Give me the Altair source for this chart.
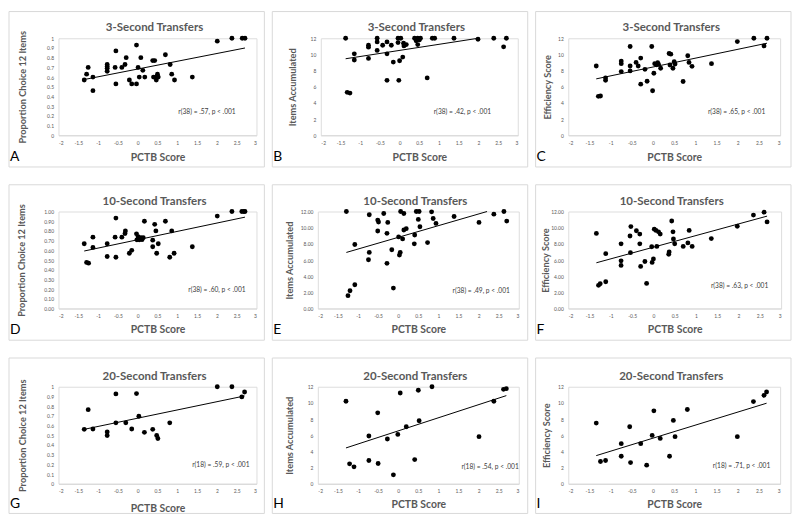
import altair as alt
import pandas as pd

# ---------------- data ----------------
x_ticks = [-2, -1.5, -1, -0.5, 0, 0.5, 1, 1.5, 2, 2.5, 3]
prop_ticks = [0, 0.1, 0.2, 0.3, 0.4, 0.5, 0.6, 0.7, 0.8, 0.9, 1.0]
items_ticks = [0, 2, 4, 6, 8, 10, 12]

titles = ["3-Second Transfers", "10-Second Transfers", "20-Second Transfers"]
y_titles = ["Proportion Choice 12 Items", "Items Accumulated", "Efficiency Score"]
letters = ["A", "B", "C", "D", "E", "F", "G", "H", "I"]
annotations = [
    "r(38) = .57, p < .001", "r(38) = .42, p < .001", "r(38) = .65, p < .001",
    "r(38) = .60, p < .001", "r(38) = .49, p < .001", "r(38) = .63, p < .001",
    "r(18) = .59, p < .001", "r(18) = .54, p < .001", "r(18) = .71, p < .001",
]

a_x = [-1.35, -1.29, -1.25, -1.13, -1.13, -0.77, -0.77, -0.77, -0.77, -0.55, -0.57, -0.55, -0.40, -0.32, -0.29,
       -0.21, -0.15, -0.03, -0.03, 0.01, 0.04, 0.08, 0.13, 0.18, 0.38, 0.43, 0.40, 0.45, 0.47, 0.50, 0.52,
       0.70, 0.82, 0.86, 0.93, 1.38, 2.01, 2.38, 2.64, 2.71]
a_y = [0.57, 0.63, 0.70, 0.60, 0.46, 0.73, 0.71, 0.69, 0.66, 0.87, 0.70, 0.53, 0.70, 0.73, 0.80,
       0.57, 0.53, 0.93, 0.53, 0.70, 0.60, 0.80, 0.67, 0.60, 0.77, 0.77, 0.60, 0.60, 0.57, 0.63, 0.60,
       0.83, 0.73, 0.63, 0.57, 0.60, 0.97, 1.0, 1.0, 1.0]

b_x = [-1.37, -1.33, -1.26, -1.15, -1.15, -0.79, -0.79, -0.79, -0.57, -0.57, -0.57, -0.43, -0.32, -0.32, -0.32,
       -0.21, -0.16, -0.04, -0.04, -0.02, 0.00, 0.03, 0.08, 0.10, 0.11, 0.17, 0.38, 0.42, 0.46, 0.46, 0.50, 0.53,
       0.70, 0.83, 0.89, 1.38, 1.99, 2.39, 2.64, 2.71]
b_y = [12.0, 5.31, 5.22, 10.08, 9.31, 11.14, 10.9, 9.51, 12.0, 11.55, 10.5, 11.14, 11.55, 10.08, 6.8,
       11.14, 9.06, 12.0, 11.47, 6.8, 9.22, 12.0, 9.67, 11.39, 11.06, 11.22, 12.0, 11.7, 11.22, 12.0, 11.8, 12.0,
       7.1, 12.0, 12.0, 12.0, 11.88, 12.0, 10.94, 12.0]

c_x = [-1.34, -1.29, -1.24, -1.12, -1.12, -0.75, -0.75, -0.75, -0.54, -0.54, -0.54, -0.40, -0.35, -0.29, -0.29,
       -0.19, -0.14, -0.03, -0.01, 0.02, 0.04, 0.08, 0.11, 0.13, 0.18, 0.38, 0.42, 0.40, 0.47, 0.50, 0.52,
       0.71, 0.82, 0.85, 0.92, 1.38, 1.99, 2.38, 2.62, 2.69]
c_y = [8.57, 4.82, 4.86, 7.1, 6.8, 9.18, 8.86, 7.88, 10.98, 8.57, 7.96, 9.02, 8.57, 9.55, 6.33,
       8.16, 6.69, 10.98, 5.51, 7.67, 8.86, 8.73, 8.98, 8.78, 8.29, 10.12, 10.04, 8.69, 8.29, 9.1, 8.82,
       6.65, 9.84, 9.02, 8.53, 8.86, 11.59, 12.0, 11.06, 12.0]

d_x = [-1.35, -1.29, -1.24, -1.13, -1.13, -0.77, -0.77, -0.55, -0.57, -0.55, -0.40, -0.32, -0.31, -0.21, -0.15,
       -0.03, -0.02, 0.01, 0.04, 0.06, 0.08, 0.11, 0.14, 0.17, 0.38, 0.38, 0.43, 0.46, 0.48, 0.52,
       0.70, 0.81, 0.86, 0.92, 1.38, 2.01, 2.38, 2.63, 2.68, 2.71]
d_y = [0.668, 0.475, 0.468, 0.736, 0.63, 0.668, 0.536, 0.932, 0.736, 0.529, 0.736, 0.773, 0.80, 0.57, 0.60,
       0.77, 0.708, 0.74, 0.708, 0.72, 0.73, 0.71, 0.73, 0.90, 0.705, 0.637, 0.868, 0.80, 0.57, 0.668,
       0.90, 0.529, 0.80, 0.57, 0.637, 0.953, 1.0, 1.0, 1.0, 1.0]

e_x = [-1.29, -1.25, -1.20, -1.08, -1.08, -0.72, -0.72, -0.74, -0.51, -0.49, -0.51, -0.36, -0.26, -0.28, -0.16,
       -0.28, -0.12, 0.01, 0.05, 0.03, 0.06, 0.14, 0.11, 0.14, 0.20, 0.40, 0.41, 0.45, 0.52, 0.50, 0.54,
       0.73, 0.83, 0.87, 0.94, 1.39, 2.01, 2.38, 2.63, 2.70]
e_y = [12.0, 1.59, 2.2, 2.94, 7.92, 11.6, 6.94, 6.04, 10.94, 10.7, 9.59, 11.76, 10.65, 9.3, 7.27,
       5.59, 2.53, 8.86, 6.94, 6.61, 12.0, 11.76, 8.61, 9.71, 9.88, 8.0, 9.1, 12.0, 12.0, 11.02, 10.12,
       8.16, 11.96, 11.14, 10.53, 11.39, 10.65, 11.67, 12.0, 10.82]

f_x = [-1.34, -1.29, -1.25, -1.12, -1.12, -0.76, -0.76, -0.76, -0.54, -0.55, -0.53, -0.40, -0.32, -0.32, -0.30,
       -0.20, -0.16, -0.04, -0.03, 0.00, 0.02, 0.06, 0.08, 0.12, 0.16, 0.36, 0.37, 0.43, 0.46, 0.47, 0.50,
       0.70, 0.81, 0.84, 0.91, 1.36, 1.97, 2.35, 2.60, 2.67]
f_y = [9.29, 2.87, 3.07, 3.31, 6.79, 8.0, 5.9, 5.33, 6.91, 8.97, 10.14, 9.62, 9.21, 8.0, 5.21,
       5.82, 3.11, 7.64, 5.7, 6.14, 9.82, 9.66, 7.68, 9.49, 9.21, 6.71, 6.99, 10.83, 9.49, 8.61, 8.0,
       7.68, 8.12, 9.66, 7.68, 8.65, 10.18, 11.56, 11.92, 10.71]

g_x = [-1.35, -1.25, -1.13, -0.77, -0.77, -0.55, -0.55, -0.30, -0.15, -0.03, 0.03, 0.17, 0.38, 0.48, 0.51,
       0.81, 2.01, 2.38, 2.63, 2.70]
g_y = [0.561, 0.764, 0.564, 0.534, 0.497, 0.926, 0.628, 0.628, 0.564, 0.929, 0.696, 0.53, 0.561, 0.497, 0.466,
       0.628, 1.0, 1.0, 0.895, 0.946]

h_x = [-1.30, -1.21, -1.10, -0.73, -0.73, -0.51, -0.50, -0.27, -0.12, -0.01, 0.05, 0.20, 0.41, 0.50, 0.52,
       0.84, 2.01, 2.38, 2.62, 2.69]
h_y = [10.2, 2.46, 2.09, 5.9, 2.87, 8.77, 2.5, 5.53, 1.1, 6.1, 11.23, 7.05, 2.99, 11.56, 7.79,
       12.0, 5.82, 10.2, 11.68, 11.76]

i_x = [-1.34, -1.24, -1.12, -0.75, -0.75, -0.55, -0.53, -0.29, -0.15, -0.02, 0.02, 0.17, 0.39, 0.48, 0.52,
       0.81, 1.99, 2.37, 2.62, 2.68]
i_y = [7.5, 2.75, 2.87, 4.96, 3.4, 7.05, 2.62, 4.96, 2.3, 5.98, 9.02, 5.61, 3.4, 7.83, 5.82,
       9.18, 5.82, 10.16, 10.94, 11.35]

# trend-line end points as drawn in the reference (B and E clipped at the axis top)
trend_x = {
    "A": [-1.35, 2.71], "B": [-1.37, 1.99], "C": [-1.34, 2.69],
    "D": [-1.35, 2.71], "E": [-1.29, 2.21], "F": [-1.34, 2.67],
    "G": [-1.35, 2.70], "H": [-1.30, 2.69], "I": [-1.34, 2.68],
}
trend_y = {
    "A": [0.575, 0.90], "B": [9.47, 12.0], "C": [6.98, 11.39],
    "D": [0.593, 0.942], "E": [6.94, 12.0], "F": [5.66, 11.43],
    "G": [0.561, 0.905], "H": [4.43, 10.9], "I": [3.48, 9.96],
}

# ---------------- layout / style ----------------
GRAY = "#595959"
FONT = "Lato"
PANEL_W = 258
PANEL_H = 157
PLOT_H = 98
one = pd.DataFrame({"k": [0]})


def panel(letter, xs, ys, title, ytitle, yvals, yfmt, ymax, ann,
          loff, w, toff, ytx, ann_right, ann_y, xty):
    pts = pd.DataFrame({"x": xs, "y": ys})
    tr = pd.DataFrame({"x": trend_x[letter], "y": trend_y[letter]})
    xenc = alt.X("x:Q",
                 scale=alt.Scale(domain=[-2, 3], nice=False, zero=False),
                 axis=alt.Axis(values=x_ticks, labelExpr="'' + datum.value",
                               title="PCTB Score", titleY=xty, titleBaseline="middle",
                               titleFontSize=10.5, titleFontWeight="bold", titleColor=GRAY,
                               titleFont=FONT,
                               labelFontSize=5, labelColor=GRAY, labelFont=FONT, labelPadding=5,
                               domainColor="#d9d9d9", ticks=False, tickSize=0, grid=False))
    yenc = alt.Y("y:Q",
                 scale=alt.Scale(domain=[0, ymax], nice=False, zero=True),
                 axis=alt.Axis(values=yvals, format=yfmt,
                               title=ytitle, titleX=ytx, titleY=PLOT_H / 2,
                               titleAngle=270, titleBaseline="middle", titleAlign="center",
                               titleFontSize=9.3, titleFontWeight="bold", titleColor=GRAY,
                               titleFont=FONT,
                               labelFontSize=5, labelColor=GRAY, labelFont=FONT, labelPadding=5,
                               domain=False, ticks=False, tickSize=0, grid=False))

    border = alt.Chart(one).mark_rect(fill="transparent", stroke="#d9d9d9", strokeWidth=1).encode(
        x=alt.value(-loff), x2=alt.value(-loff + PANEL_W),
        y=alt.value(-toff), y2=alt.value(-toff + PANEL_H))
    dots = alt.Chart(pts).mark_circle(size=24, color="black", opacity=1).encode(x=xenc, y=yenc)
    line = alt.Chart(tr).mark_line(color="black", strokeWidth=1).encode(x=xenc, y=yenc)
    ttl = alt.Chart(one).mark_text(fontWeight="bold", fontSize=11.6, color=GRAY, font=FONT,
                                   baseline="middle", align="center").encode(
        x=alt.value(w / 2 - 3), y=alt.value(-10), text=alt.value(title))
    note = alt.Chart(one).mark_text(fontSize=6.7, color="#404040", font=FONT,
                                    align="right", baseline="middle").encode(
        x=alt.value(ann_right), y=alt.value(ann_y), text=alt.value(ann))
    lab = alt.Chart(one).mark_text(fontSize=14, color="black", font=FONT,
                                   align="left", baseline="middle").encode(
        x=alt.value(-loff + 1), y=alt.value(-toff + PANEL_H - 10), text=alt.value(letter))
    return alt.layer(border, line, dots, ttl, note, lab).properties(width=w, height=PLOT_H)


pA = panel("A", a_x, a_y, titles[0], y_titles[0], prop_ticks, "~g", 1, annotations[0],
           50, 200, 27, -36, 179, 74, 22)
pB = panel("B", b_x, b_y, titles[0], y_titles[1], items_ticks, "d", 12, annotations[1],
           49, 199, 27, -29, 172, 74, 22)
pC = panel("C", c_x, c_y, titles[0], y_titles[2], items_ticks, "d", 12, annotations[2],
           33, 214, 27, -21, 199, 74, 22)
pD = panel("D", d_x, d_y, titles[1], y_titles[0], prop_ticks, ".2f", 1, annotations[3],
           50, 200, 27, -37, 189, 79, 21)
pE = panel("E", e_x, e_y, titles[1], y_titles[1], items_ticks, ".2f", 12, annotations[4],
           46, 203, 27, -29, 194, 80, 21)
pF = panel("F", f_x, f_y, titles[1], y_titles[2], items_ticks, ".2f", 12, annotations[5],
           33, 215, 27, -23, 202, 75, 21)
pG = panel("G", g_x, g_y, titles[2], y_titles[0], prop_ticks, "~g", 1, annotations[6],
           50, 200, 29, -36, 193, 79, 25)
pH = panel("H", h_x, h_y, titles[2], y_titles[1], items_ticks, "d", 12, annotations[7],
           46, 203, 29, -29, 203, 81, 21)
pI = panel("I", i_x, i_y, titles[2], y_titles[2], items_ticks, "d", 12, annotations[8],
           33, 214, 29, -22, 204, 80, 21)

row1 = alt.hconcat(pA, pB, pC, spacing=6)
row2 = alt.hconcat(pD, pE, pF, spacing=6)
row3 = alt.hconcat(pG, pH, pI, spacing=6)

chart = alt.vconcat(row1, row2, row3, spacing=16).properties(
    padding=0, background="white"
).configure_view(strokeWidth=0).configure(font=FONT)

chart.save("out.html", embed_options={"renderer": "svg", "actions": False})
